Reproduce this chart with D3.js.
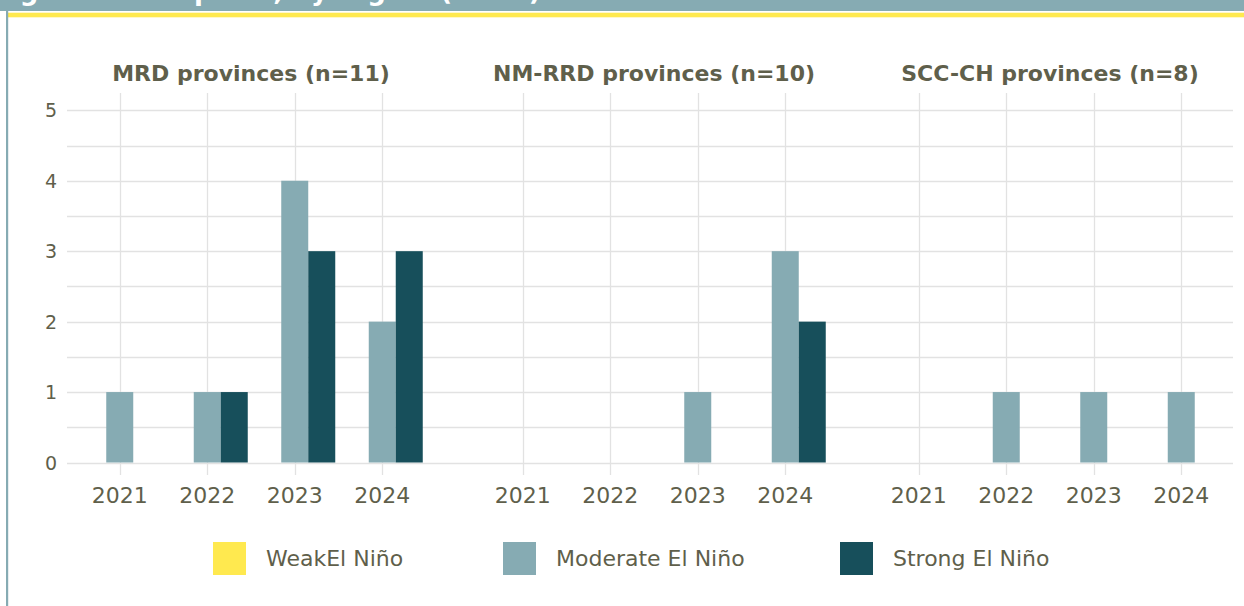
<!DOCTYPE html>
<html>
<head>
<meta charset="utf-8">
<script src="https://cdn.jsdelivr.net/npm/d3@7"></script>
<style>
  html, body { margin: 0; padding: 0; background: #fff; }
  svg { display: block; font-family: "DejaVu Sans", Verdana, sans-serif; }
</style>
</head>
<body>
<div id="chart"></div>
<script>
const HEADER = 'Significant impacts, by region (n=29)';
const REGIONS = ['MRD provinces (n=11)', 'NM-RRD provinces (n=10)', 'SCC-CH provinces (n=8)'];
const YEARS = ['2021', '2022', '2023', '2024'];
const SERIES = ['WeakEl Niño', 'Moderate El Niño', 'Strong El Niño'];
const Y_TICKS = [0, 1, 2, 3, 4, 5];

// values per region, one entry per year
const WEAK = [[0, 0, 0, 0], [0, 0, 0, 0], [0, 0, 0, 0]];
const MODERATE = [[1, 1, 4, 2], [0, 0, 1, 3], [0, 1, 1, 1]];
const STRONG = [[0, 1, 3, 3], [0, 0, 0, 2], [0, 0, 0, 0]];

const COLORS = ['#ffe94f', '#86abb3', '#174f5b'];
const TEXT = '#5f5f4b';
const GRID = '#e2e2e2';
const TEAL = '#86abb3';

const W = 1244, H = 606;
const svg = d3.select('#chart').append('svg').attr('width', W).attr('height', H);
svg.append('rect').attr('width', W).attr('height', H).attr('fill', '#fff');

// header strip (title mostly scrolled out of view)
svg.append('rect').attr('x', 0).attr('y', 0).attr('width', W).attr('height', 11).attr('fill', TEAL);
svg.append('text').attr('x', -8).attr('y', -0.5).attr('fill', '#fff')
  .style('font-size', '26px').style('font-weight', 'bold').text(HEADER);
svg.append('rect').attr('x', 8).attr('y', 12.7).attr('width', W - 8).attr('height', 4.6).attr('fill', COLORS[0]);
svg.append('rect').attr('x', 6).attr('y', 11).attr('width', 2.2).attr('height', H - 11).attr('fill', TEAL);

const y = d3.scaleLinear().domain([0, 5]).range([462.5, 110.3]);
const gridLeft = 67, gridRight = 1233;
const panelLeft = [76, 479, 875];
const panelWidth = 350;

// horizontal grid, every half unit, continuous across the panels
svg.append('g').selectAll('line').data(d3.range(0, 5.01, 0.5)).enter().append('line')
  .attr('x1', gridLeft).attr('x2', gridRight)
  .attr('y1', d => Math.round(y(d)) + 0.5).attr('y2', d => Math.round(y(d)) + 0.5)
  .attr('stroke', GRID).attr('stroke-width', 1.3);

svg.append('g').selectAll('text').data(Y_TICKS).enter().append('text')
  .attr('x', 57).attr('y', d => y(d)).attr('text-anchor', 'end').attr('dominant-baseline', 'central')
  .style('font-size', '19px').style('fill', TEXT).text(d => d);

const inner = d3.scaleBand().domain(SERIES).range([-40.5, 40.5]);

REGIONS.forEach((region, r) => {
  const x = d3.scaleBand().domain(YEARS).range([panelLeft[r], panelLeft[r] + panelWidth]);
  const cx = d => x(d) + x.bandwidth() / 2;
  const g = svg.append('g');

  g.selectAll('.vgrid').data(YEARS).enter().append('line')
    .attr('x1', d => Math.round(cx(d)) + 0.5).attr('x2', d => Math.round(cx(d)) + 0.5)
    .attr('y1', 93).attr('y2', 475)
    .attr('stroke', GRID).attr('stroke-width', 1.3);

  g.append('text').attr('x', panelLeft[r] + panelWidth / 2).attr('y', 80.5)
    .attr('text-anchor', 'middle').style('font-size', '22px').style('font-weight', 'bold')
    .style('fill', TEXT).text(region);

  const rows = [WEAK[r], MODERATE[r], STRONG[r]];
  SERIES.forEach((s, si) => {
    g.selectAll('.bar' + si).data(YEARS.map((yr, i) => ({ yr, v: rows[si][i] })).filter(d => d.v > 0))
      .enter().append('rect')
      .attr('x', d => cx(d.yr) + inner(s)).attr('width', inner.bandwidth())
      .attr('y', d => y(d.v)).attr('height', d => y(0) - y(d.v))
      .attr('fill', COLORS[si]);
  });

  g.selectAll('.xlab').data(YEARS).enter().append('text')
    .attr('x', d => cx(d)).attr('y', 503).attr('text-anchor', 'middle')
    .style('font-size', '22px').style('fill', TEXT).text(d => d);
});

// legend
const legendX = [213, 503, 840];
const lg = svg.append('g').selectAll('g').data(SERIES).enter().append('g')
  .attr('transform', (d, i) => `translate(${legendX[i]},542)`);
lg.append('rect').attr('width', 33).attr('height', 33).attr('fill', (d, i) => COLORS[i]);
lg.append('text').attr('x', 53).attr('y', 16.5).attr('dominant-baseline', 'central')
  .style('font-size', '22px').style('fill', TEXT).text(d => d);
</script>
</body>
</html>
